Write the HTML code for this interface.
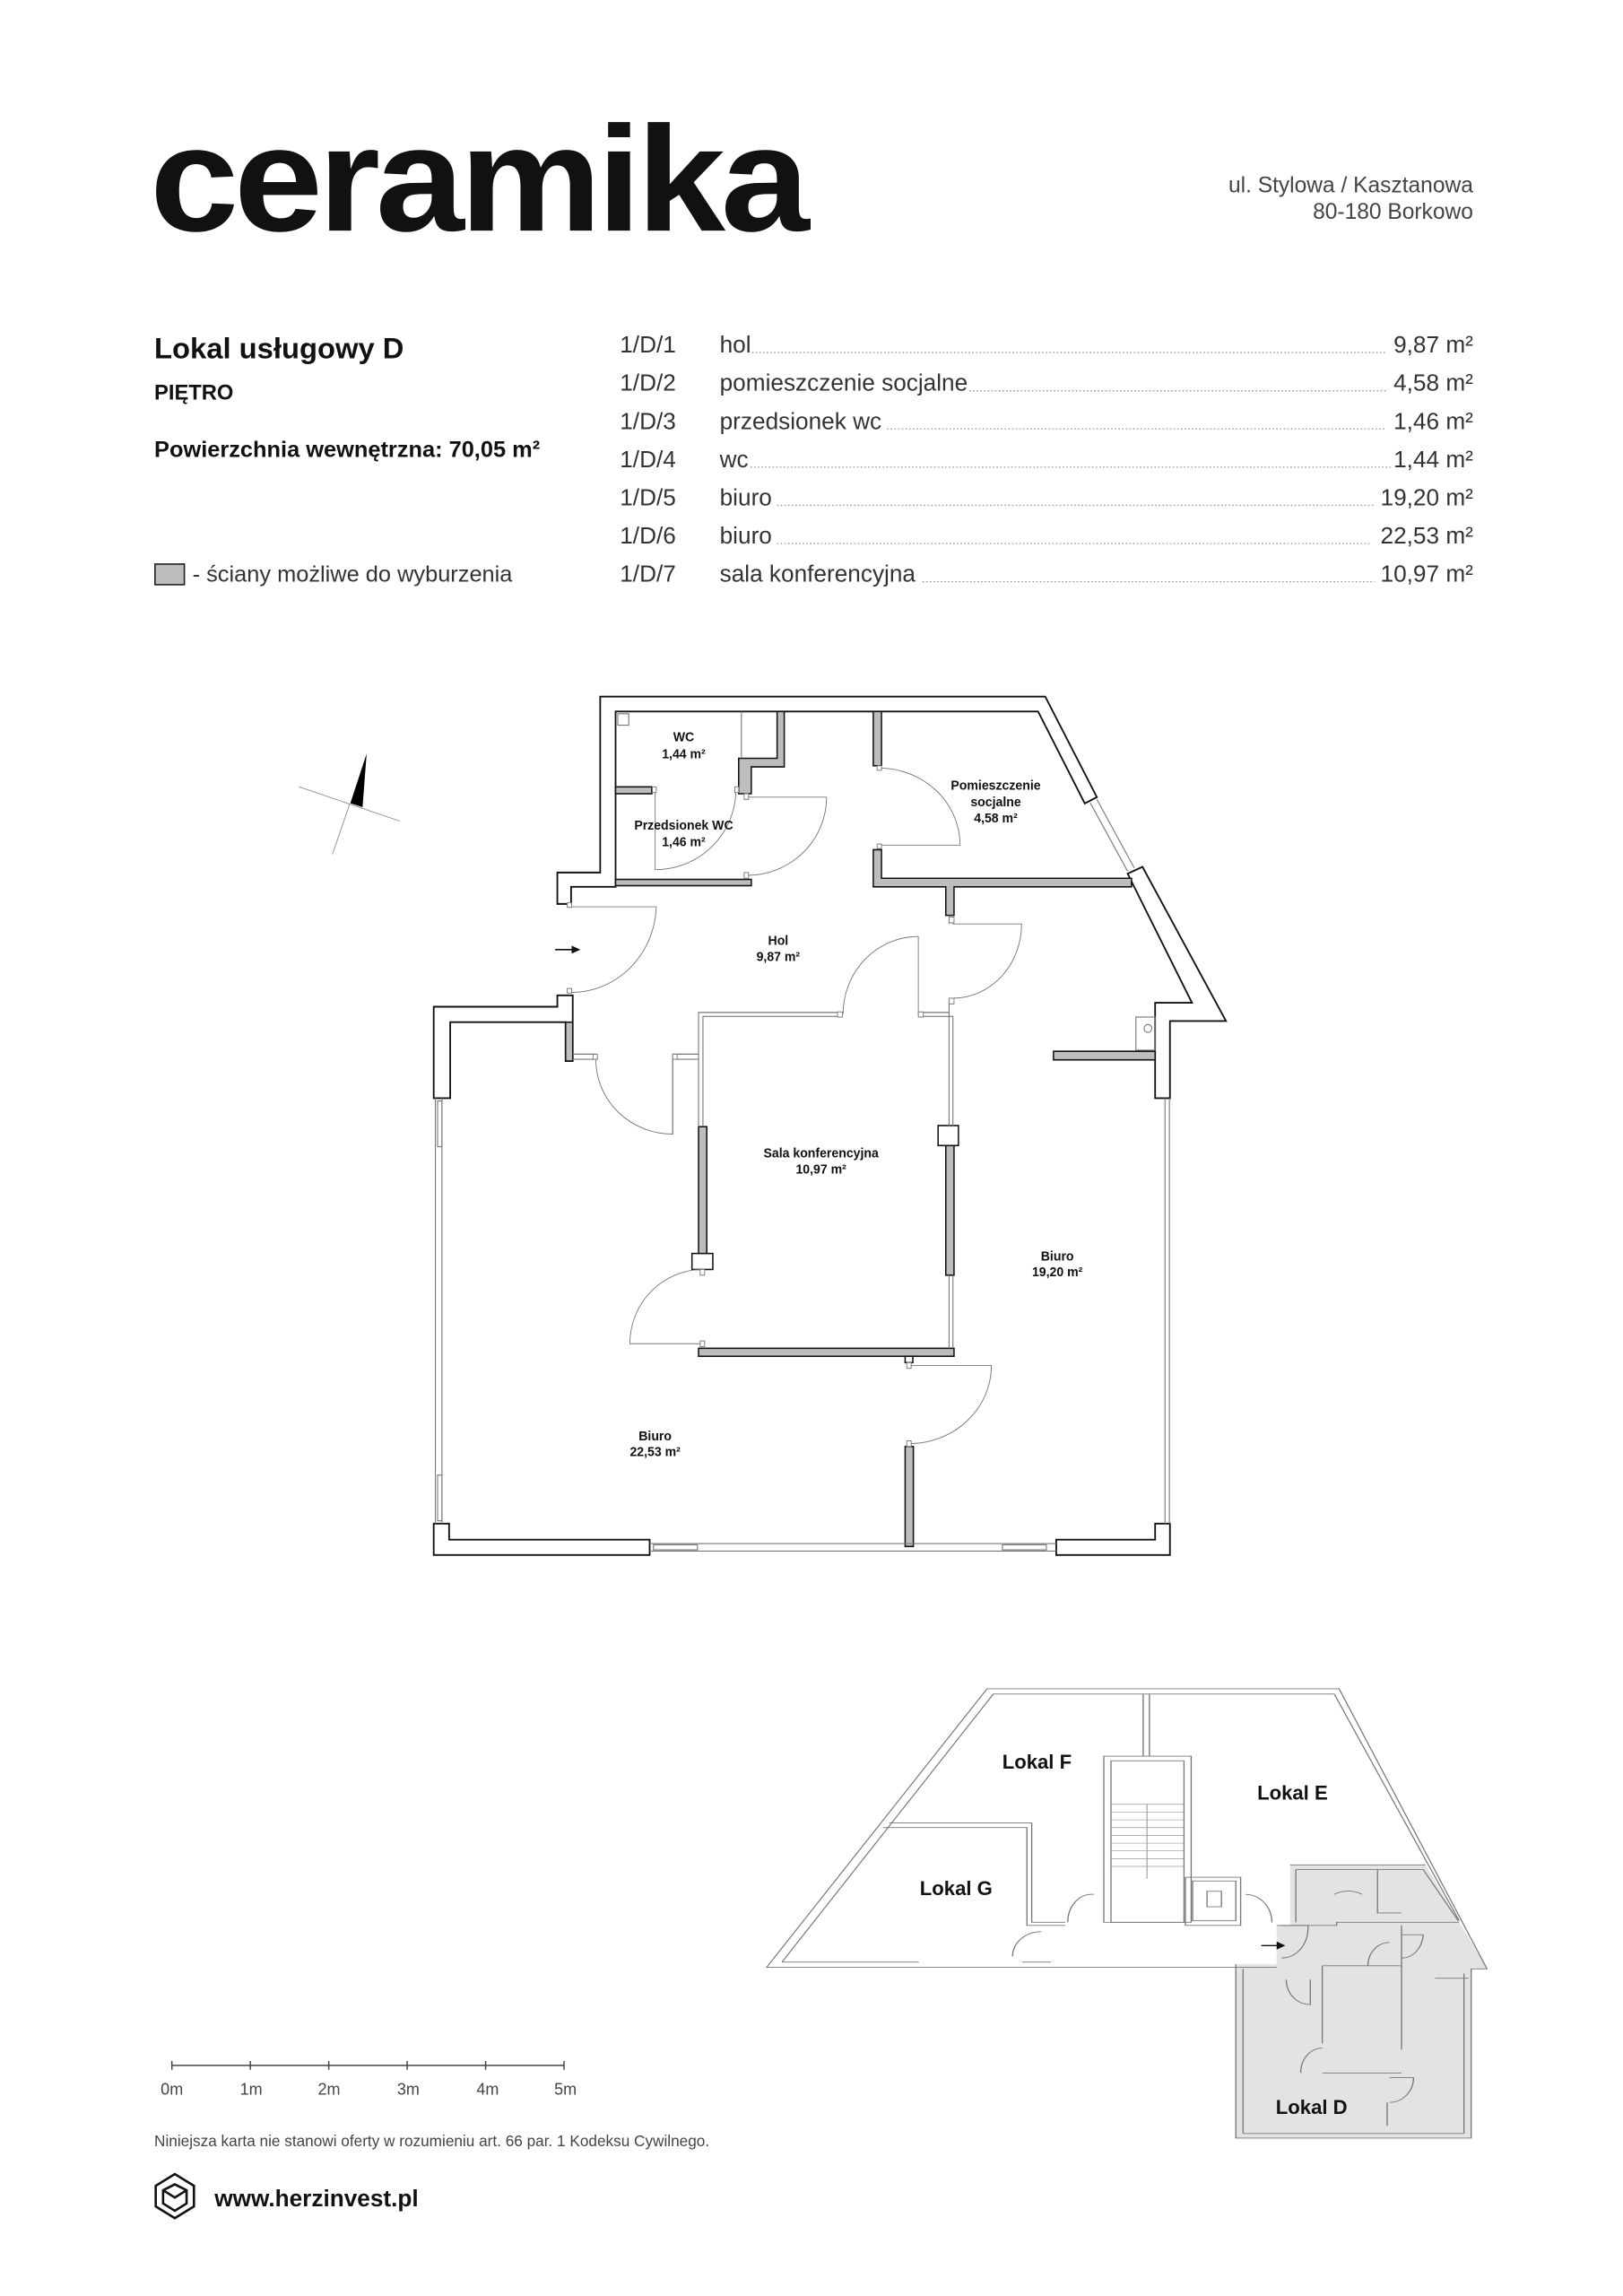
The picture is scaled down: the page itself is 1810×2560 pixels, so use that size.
<!DOCTYPE html>
<html><head><meta charset="utf-8"><style>
html,body{margin:0;padding:0;background:#fff}
svg{display:block}
</style></head><body>
<svg xmlns="http://www.w3.org/2000/svg" width="1810" height="2560" viewBox="0 0 1105 1563">
<rect width="1105" height="1563" fill="#fff"/>
<g font-family="Liberation Sans, sans-serif" fill="#111">
<text x="102" y="157" font-size="102" font-weight="bold" textLength="446" lengthAdjust="spacingAndGlyphs" letter-spacing="-3">ceramika</text>
<text x="1003" y="131" font-size="15" text-anchor="end" fill="#444">ul. Stylowa / Kasztanowa</text>
<text x="1003" y="149" font-size="15" text-anchor="end" fill="#444">80-180 Borkowo</text>
<text x="105" y="244" font-size="20" font-weight="bold">Lokal usługowy D</text>
<text x="105" y="272" font-size="14.5" font-weight="bold">PIĘTRO</text>
<text x="105" y="311" font-size="15.5" font-weight="bold">Powierzchnia wewnętrzna: 70,05 m²</text>
<rect x="105.5" y="384" width="20" height="14" fill="#bdbdbd" stroke="#222" stroke-width="1"/>
<text x="131" y="396" font-size="15.5" fill="#333">- ściany możliwe do wyburzenia</text>
</g>
<g font-family="Liberation Sans, sans-serif" font-size="16" fill="#333">
<g stroke="#999" stroke-width="0.8" stroke-dasharray="1,1.5">
<line x1="512" y1="240" x2="944" y2="240"/>
<line x1="660" y1="266" x2="944" y2="266"/>
<line x1="604" y1="292" x2="944" y2="292"/>
<line x1="511" y1="318" x2="948" y2="318"/>
<line x1="529" y1="344" x2="936" y2="344"/>
<line x1="529" y1="370" x2="934" y2="370"/>
<line x1="628" y1="396" x2="936" y2="396"/>
</g>
<text x="422" y="240">1/D/1</text><text x="490" y="240">hol</text><text x="1003" y="240" text-anchor="end">9,87 m²</text>
<text x="422" y="266">1/D/2</text><text x="490" y="266">pomieszczenie socjalne</text><text x="1003" y="266" text-anchor="end">4,58 m²</text>
<text x="422" y="292">1/D/3</text><text x="490" y="292">przedsionek wc</text><text x="1003" y="292" text-anchor="end">1,46 m²</text>
<text x="422" y="318">1/D/4</text><text x="490" y="318">wc</text><text x="1003" y="318" text-anchor="end">1,44 m²</text>
<text x="422" y="344">1/D/5</text><text x="490" y="344">biuro</text><text x="1003" y="344" text-anchor="end">19,20 m²</text>
<text x="422" y="370">1/D/6</text><text x="490" y="370">biuro</text><text x="1003" y="370" text-anchor="end">22,53 m²</text>
<text x="422" y="396">1/D/7</text><text x="490" y="396">sala konferencyjna</text><text x="1003" y="396" text-anchor="end">10,97 m²</text>
</g>
<g stroke="#999" stroke-width="0.6"><line x1="203.5" y1="535.6" x2="272.3" y2="559"/><line x1="238.2" y1="547" x2="226.3" y2="581.6"/></g>
<polygon points="249.6,513 238.5,546.8 246.8,549.5" fill="#000"/>

<g transform="translate(274.7,457.9) scale(0.3741,0.3888)">
<g fill="#fff" stroke="#111" stroke-width="3" stroke-linejoin="miter">
<polygon points="280,350 358,350 358,42 1168,42 1262,218 1240,229 1155,68 386,68 386,375 305,375 305,405 280,405"/>
<polygon points="1318,352 1345,340 1497,610 1395,610 1395,745 1368,745 1368,578 1435,578"/>
<polygon points="308,565 280,565 280,585 55,585 55,745 85,745 85,612 295,612 295,680 308,680"/>
<polygon points="55,1490 83,1490 83,1518 448,1518 448,1545 55,1545"/>
<polygon points="1188,1518 1368,1518 1368,1490 1395,1490 1395,1545 1188,1545"/>
</g>
<g fill="#bdbdbd" stroke="#111" stroke-width="2.5">
<rect x="295" y="612" width="13" height="68"/>
<polygon points="680,68 693,68 693,165 633,165 633,212 610,212 610,150 680,150"/>
<rect x="386" y="200" width="66" height="12"/>
<rect x="386" y="362" width="247" height="11"/>
<rect x="855" y="68" width="15" height="95"/>
<polygon points="855,310 870,310 870,360 1325,360 1325,375 1002,375 1002,425 987,425 987,375 855,375"/>
<rect x="1183" y="663" width="185" height="15"/>
<rect x="537" y="795" width="15" height="225"/>
<rect x="987" y="828" width="15" height="227"/>
<rect x="537" y="1183" width="465" height="14"/>
<rect x="913" y="1355" width="15" height="175"/>
</g>
<g fill="#fff" stroke="#111" stroke-width="2.5">
<rect x="525" y="1017" width="38" height="28"/>
<rect x="973" y="793" width="37" height="35"/>
<rect x="913" y="1197" width="14" height="11"/>
</g>
<g fill="none" stroke="#777" stroke-width="1.8">
<line x1="58" y1="745" x2="58" y2="1490"/><line x1="70" y1="745" x2="70" y2="1490"/>
<rect x="62" y="750" width="8" height="80"/><rect x="62" y="1405" width="8" height="80"/>
<line x1="448" y1="1525" x2="1188" y2="1525"/><line x1="448" y1="1538" x2="1188" y2="1538"/>
<rect x="455" y="1527" width="80" height="9"/><rect x="1090" y="1527" width="80" height="9"/>
<line x1="1386" y1="745" x2="1386" y2="1490"/><line x1="1394" y1="745" x2="1394" y2="1490"/>
<line x1="1250" y1="228" x2="1318" y2="348"/><line x1="1262" y1="222" x2="1330" y2="342"/>
<polyline points="537,795 537,595 795,595"/><polyline points="545,795 545,602 795,602"/>
<polyline points="937,595 993,595 993,795"/><polyline points="937,602 1000,602 1000,795"/>
<line x1="993" y1="425" x2="993" y2="440"/><line x1="1000" y1="425" x2="1000" y2="440"/>
<line x1="993" y1="570" x2="993" y2="595"/>
<line x1="993" y1="1055" x2="993" y2="1183"/><line x1="1000" y1="1055" x2="1000" y2="1183"/>
<line x1="308" y1="668" x2="350" y2="668"/><line x1="308" y1="677" x2="350" y2="677"/>
<polyline points="490,808 490,668 537,668"/><polyline points="497,677 537,677"/>
<line x1="615" y1="68" x2="615" y2="150"/>
<rect x="390" y="72" width="20" height="20"/>
<rect x="1333" y="603" width="35" height="58"/>
<circle cx="1355" cy="623" r="7"/>
</g>
<g fill="none" stroke="#777" stroke-width="1.5">
<path d="M305,410 H460 A155,155 0 0 1 305,560"/>
<path d="M458,205 V345 A147,140 0 0 0 605,205"/>
<path d="M625,218 H770 A145,137 0 0 1 625,355"/>
<path d="M865,302 H1013 A148,135 0 0 0 865,167"/>
<path d="M1000,440 H1125 A125,130 0 0 1 1000,570"/>
<path d="M937,598 V462 A137,136 0 0 0 800,598"/>
<path d="M490,677 V808 A140,131 0 0 1 350,677"/>
<path d="M545,1175 H412 A133,130 0 0 1 545,1045"/>
<path d="M920,1213 H1070 A150,137 0 0 1 920,1350"/>
</g>
<g fill="#fff" stroke="#777" stroke-width="1.5">
<rect x="298" y="403" width="8" height="8"/><rect x="298" y="553" width="8" height="8"/>
<rect x="345" y="668" width="8" height="9"/><rect x="490" y="668" width="8" height="9"/>
<rect x="453" y="200" width="7" height="10"/><rect x="603" y="200" width="7" height="10"/>
<rect x="620" y="212" width="8" height="10"/><rect x="620" y="350" width="8" height="10"/>
<rect x="862" y="163" width="8" height="8"/><rect x="862" y="300" width="8" height="8"/>
<rect x="993" y="428" width="9" height="10"/><rect x="993" y="570" width="9" height="10"/>
<rect x="790" y="594" width="9" height="9"/><rect x="937" y="594" width="9" height="9"/>
<rect x="540" y="1045" width="8" height="10"/><rect x="540" y="1170" width="8" height="10"/>
<rect x="916" y="1208" width="8" height="10"/><rect x="916" y="1345" width="8" height="10"/>
</g>
<line x1="276" y1="485" x2="312" y2="485" stroke="#111" stroke-width="2.5"/>
<polygon points="322,485 306,478 306,492" fill="#111"/>
<g font-family="Liberation Sans, sans-serif" font-weight="bold" font-size="23" fill="#111" text-anchor="middle">
<text x="510" y="120">WC</text><text x="510" y="150">1,44 m²</text>
<text x="510" y="275">Przedsionek WC</text><text x="510" y="304">1,46 m²</text>
<text x="1078" y="205">Pomieszczenie</text><text x="1078" y="234">socjalne</text><text x="1078" y="262">4,58 m²</text>
<text x="682" y="477">Hol</text><text x="682" y="505">9,87 m²</text>
<text x="760" y="849">Sala konferencyjna</text><text x="760" y="877">10,97 m²</text>
<text x="1190" y="1029">Biuro</text><text x="1190" y="1057">19,20 m²</text>
<text x="458" y="1344">Biuro</text><text x="458" y="1372">22,53 m²</text>
</g>
</g>

<g transform="translate(512.8,1141.6) scale(0.327,0.2114)">
<polygon points="1118,605 1400,605 1528,940 1495,940 1495,1485 1005,1485 1005,925 1090,925 1090,800 1118,800" fill="#e3e3e3"/>
<g fill="none" stroke="#777" stroke-width="2.5">
<polyline points="1090,935 28,935 487,38 1220,38 1528,940 1495,940 1495,1485 1005,1485 1005,925"/>
<polyline points="60,918 500,55 1210,55 1470,785"/>
<line x1="60" y1="918" x2="345" y2="918"/>
<line x1="560" y1="918" x2="620" y2="918"/>
<line x1="1020" y1="940" x2="1020" y2="1470"/><line x1="1020" y1="1470" x2="1480" y2="1470"/><line x1="1480" y1="955" x2="1480" y2="1470"/>
<polyline points="283,470 580,470 580,790 650,790"/><polyline points="270,485 570,485 570,800 650,800"/>
<line x1="812" y1="55" x2="812" y2="255"/><line x1="825" y1="55" x2="825" y2="255"/>
<rect x="730" y="255" width="182" height="535"/><rect x="745" y="270" width="152" height="520"/>
<rect x="900" y="645" width="115" height="155"/><rect x="915" y="657" width="90" height="128"/>
<rect x="945" y="690" width="30" height="50"/>
<polyline points="1118,605 1400,605"/><polyline points="1130,620 1395,620 1468,785"/>
<line x1="1130" y1="620" x2="1130" y2="790"/>
<polyline points="1090,800 1215,800 1215,790 1300,790"/>
<polyline points="1300,620 1300,760 1350,760"/>
<polyline points="1300,790 1470,790"/>
<line x1="1185" y1="930" x2="1350" y2="930"/>
<line x1="1185" y1="930" x2="1185" y2="1180"/><line x1="1350" y1="800" x2="1350" y2="1200"/>
<line x1="1185" y1="1275" x2="1350" y2="1275"/>
<line x1="1320" y1="1370" x2="1320" y2="1445"/>
<line x1="1420" y1="970" x2="1490" y2="970"/>
<path d="M1100,800 H1155 A55,95 0 0 1 1100,905"/>
<path d="M1350,830 H1395 A45,80 0 0 1 1350,905"/>
<path d="M1325,855 A45,75 0 0 0 1280,930"/>
<path d="M1160,975 V1055 A50,80 0 0 1 1110,975"/>
<path d="M1185,1195 A45,80 0 0 0 1140,1275"/>
<path d="M1325,1290 H1375 A50,80 0 0 1 1325,1370"/>
<path d="M710,700 A50,90 0 0 0 655,790"/>
<path d="M600,820 A60,80 0 0 0 540,900"/>
<path d="M1025,700 A55,90 0 0 1 1080,790"/>
<path d="M1210,700 A58,80 0 0 1 1268,700"/>
</g>
<g stroke="#999" stroke-width="2">
<line x1="745" y1="410" x2="897" y2="410"/><line x1="745" y1="435" x2="897" y2="435"/>
<line x1="745" y1="460" x2="897" y2="460"/><line x1="745" y1="485" x2="897" y2="485"/>
<line x1="745" y1="510" x2="897" y2="510"/><line x1="745" y1="535" x2="897" y2="535"/>
<line x1="745" y1="560" x2="897" y2="560"/><line x1="745" y1="585" x2="897" y2="585"/>
<line x1="745" y1="610" x2="897" y2="610"/><line x1="820" y1="410" x2="820" y2="650"/>
</g>
<line x1="1058" y1="865" x2="1095" y2="865" stroke="#111" stroke-width="4"/>
<polygon points="1108,865 1090,852 1090,878" fill="#111"/>
</g>
<g font-family="Liberation Sans, sans-serif" font-weight="bold" font-size="13.5" fill="#111" text-anchor="middle">
<text x="706" y="1204">Lokal F</text>
<text x="880" y="1225">Lokal E</text>
<text x="651" y="1290">Lokal G</text>
<text x="893" y="1439">Lokal D</text>
</g>

<g stroke="#444" stroke-width="0.9">
<line x1="117" y1="1406" x2="384" y2="1406"/>
<line x1="117" y1="1403" x2="117" y2="1409"/><line x1="170.4" y1="1403" x2="170.4" y2="1409"/>
<line x1="223.8" y1="1403" x2="223.8" y2="1409"/><line x1="277.2" y1="1403" x2="277.2" y2="1409"/>
<line x1="330.6" y1="1403" x2="330.6" y2="1409"/><line x1="384" y1="1403" x2="384" y2="1409"/>
</g>
<g font-family="Liberation Sans, sans-serif" font-size="11" fill="#444" text-anchor="middle">
<text x="117" y="1426">0m</text><text x="171" y="1426">1m</text><text x="224" y="1426">2m</text>
<text x="278" y="1426">3m</text><text x="332" y="1426">4m</text><text x="385" y="1426">5m</text>
</g>
<text x="105" y="1461" font-family="Liberation Sans, sans-serif" font-size="10.5" fill="#444">Niniejsza karta nie stanowi oferty w rozumieniu art. 66 par. 1 Kodeksu Cywilnego.</text>
<g fill="none" stroke="#111" stroke-width="1.6">
<polygon points="119,1480 132,1488 132,1502 119,1510 106,1502 106,1488"/>
<path d="M111,1491 L119,1487 L127,1491 L127,1500 L119,1505 L111,1500 Z M111,1491 L119,1496 L127,1491"/>
</g>
<text x="146" y="1502" font-family="Liberation Sans, sans-serif" font-size="16" font-weight="bold" fill="#111">www.herzinvest.pl</text>
</svg>
</body></html>
